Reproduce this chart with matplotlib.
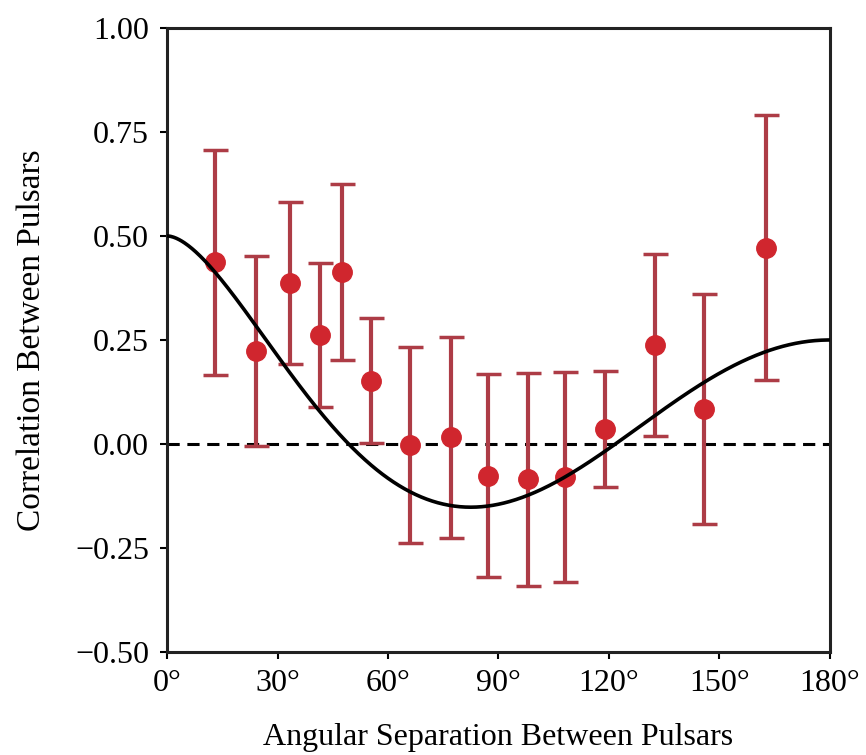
import numpy as np
import matplotlib
matplotlib.use("Agg")
import matplotlib.pyplot as plt

# Data
angles = [13.0, 24.2, 33.4, 41.5, 47.5, 55.4, 66.0, 77.1, 87.2, 98.0, 108.0, 118.9, 132.5, 145.8, 162.6]
corr = [0.437, 0.224, 0.387, 0.262, 0.414, 0.152, -0.003, 0.016, -0.076, -0.085, -0.080, 0.036, 0.238, 0.084, 0.472]
err = [0.270, 0.228, 0.195, 0.174, 0.212, 0.150, 0.235, 0.242, 0.244, 0.256, 0.252, 0.139, 0.218, 0.276, 0.318]
xticks = [0, 30, 60, 90, 120, 150, 180]
xticklabels = ["0°", "30°", "60°", "90°", "120°", "150°", "180°"]
yticks = [-0.50, -0.25, 0.00, 0.25, 0.50, 0.75, 1.00]

# Theoretical Hellings-Downs curve
zeta = np.linspace(0.0, 180.0, 721)
xh = (1 - np.cos(np.radians(zeta))) / 2
with np.errstate(divide="ignore", invalid="ignore"):
    gamma = np.where(xh > 0, 1.5 * xh * np.log(xh), 0.0) - xh / 4 + 0.5

plt.rcParams["font.family"] = ["Liberation Serif", "DejaVu Serif"]
plt.rcParams["mathtext.fontset"] = "stix"

fig = plt.figure(figsize=(8.66, 7.55), dpi=100)
ax = fig.add_axes([0.193, 0.1364, 0.765, 0.8266])

ax.axhline(0, color="black", lw=2.2, ls=(0, (4, 2.5)), zorder=1)
ax.errorbar(angles, corr, yerr=err, fmt="none", ecolor="#ad3c46", elinewidth=3,
            capsize=9, capthick=2.5, zorder=2)
ax.plot(angles, corr, "o", color="#d0262e", ms=14, zorder=3)
ax.plot(zeta, gamma, color="black", lw=2.6, zorder=4)

ax.set_xlim(0, 180)
ax.set_ylim(-0.5, 1.0)
ax.set_xticks(xticks)
ax.set_xticklabels(xticklabels)
ax.set_yticks(yticks)
ax.set_yticklabels([f"{v:.2f}".replace("-", "\u2212") for v in yticks])
ax.tick_params(direction="out", length=5, width=1.5, labelsize=23, colors="black")
ax.tick_params(axis="y", pad=8)
ax.tick_params(axis="x", pad=7)
for s in ax.spines.values():
    s.set_linewidth(2.2)
    s.set_color("#222222")

ax.set_xlabel("Angular Separation Between Pulsars", fontsize=23, labelpad=18)
ax.set_ylabel("Correlation Between Pulsars", fontsize=24, labelpad=20)

fig.savefig("out.png", dpi=100)
